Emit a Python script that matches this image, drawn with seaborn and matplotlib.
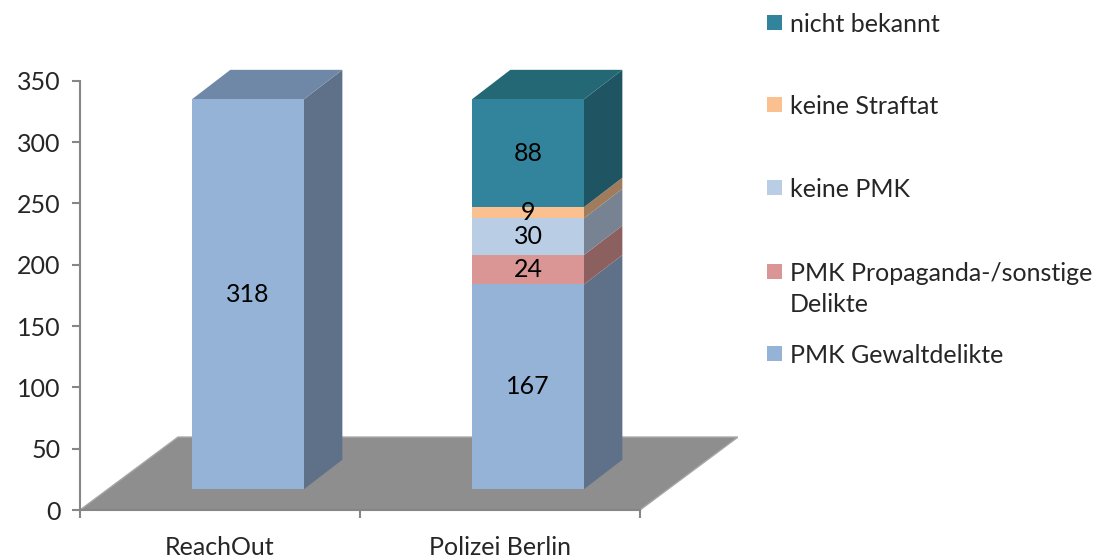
import numpy as np
import pandas as pd
import matplotlib
matplotlib.use("Agg")
import matplotlib.pyplot as plt
from matplotlib.patches import Polygon, Rectangle
import seaborn as sns

categories = ["ReachOut", "Polizei Berlin"]
series = ["PMK Gewaltdelikte", "PMK Propaganda-/sonstige Delikte", "keine PMK",
          "keine Straftat", "nicht bekannt"]
reachout_vals = [318, 0, 0, 0, 0]
polizei_vals = [167, 24, 30, 9, 88]
legend_labels = ["nicht bekannt", "keine Straftat", "keine PMK",
                 "PMK Propaganda-/sonstige\nDelikte", "PMK Gewaltdelikte"]

front_colors = ["#95B3D7", "#D99694", "#B9CDE5", "#FAC090", "#31849B"]
side_colors = ["#5F7089", "#8B605F", "#778392", "#A07B5C", "#1F5563"]
top_colors = ["#7088A8", "#A87372", "#8E9DB0", "#C29570", "#236874"]

sns.set_style("white")
plt.rcParams["font.family"] = ["Lato", "DejaVu Sans"]
fs = 18

fig = plt.figure(figsize=(10.96, 5.58), dpi=100)
ax = fig.add_axes([80 / 1096, 48 / 558, 658 / 1096, 441.4 / 558])

# 3d look: offset of the bar front, depth of bar, depth of floor
bx, by = 0.10, 17.0
ddx, ddy = 0.137, 24.0
fdx, fdy = 0.35, 59.5
bw = 0.4

# floor
ax.add_patch(Polygon([(-0.5, 0), (1.5, 0), (1.5 + fdx, fdy), (-0.5 + fdx, fdy)],
                     closed=True, facecolor="#8E8E8E", edgecolor="#A6A6A6",
                     lw=1, zorder=1))

data = np.array([reachout_vals, polizei_vals])
cum = np.cumsum(data, axis=1)
rows = []
for i, cat in enumerate(categories):
    for j, s in enumerate(series):
        rows.append({"cat": cat, "series": s, "cum": cum[i, j], "val": data[i, j]})
df = pd.DataFrame(rows)

# stacked by overlaying cumulative totals, largest first
for j in reversed(range(len(series))):
    sub = df[df["series"] == series[j]]
    sns.barplot(data=sub, x="cat", y="cum", order=categories, color=front_colors[j],
                saturation=1, width=bw, ax=ax, zorder=3 + (len(series) - j) * 0.01,
                edgecolor="none", linewidth=0)

for p in ax.patches:
    if isinstance(p, Rectangle):
        p.set_x(p.get_x() + bx)
        p.set_y(p.get_y() + by)

for i in range(len(categories)):
    xr = i + bw / 2 + bx
    xl = i - bw / 2 + bx
    bottom = 0
    for j in range(len(series)):
        v = data[i, j]
        if v == 0:
            continue
        b, t = by + bottom, by + bottom + v
        ax.add_patch(Polygon([(xr, b), (xr + ddx, b + ddy), (xr + ddx, t + ddy), (xr, t)],
                             closed=True, facecolor=side_colors[j], edgecolor="none",
                             zorder=2.5))
        ax.text(i + bx, b + v / 2, str(v), ha="center", va="center",
                fontsize=fs, color="black", zorder=5)
        bottom += v
        top_j = j
    T = by + bottom
    ax.add_patch(Polygon([(xl, T), (xr, T), (xr + ddx, T + ddy), (xl + ddx, T + ddy)],
                         closed=True, facecolor=top_colors[top_j], edgecolor="none",
                         zorder=2.5))

ax.set_xlim(-0.5, 1.85)
ax.set_ylim(0, 360)
ax.set_xlabel("")
ax.set_ylabel("")

for side in ["top", "right"]:
    ax.spines[side].set_visible(False)
for side in ["left", "bottom"]:
    ax.spines[side].set_color("#868686")
    ax.spines[side].set_linewidth(1.5)
ax.spines["left"].set_bounds(0, 350)
ax.spines["bottom"].set_bounds(-0.5, 1.5)

ax.set_yticks(range(0, 351, 50))
ax.tick_params(axis="y", length=6, width=1.5, color="#868686", pad=8,
               labelsize=fs, left=True)
ax.set_xticks([0, 1])
ax.set_xticklabels(categories)
ax.set_xticks([-0.5, 0.5, 1.5], minor=True)
ax.tick_params(axis="x", which="major", length=0, pad=19, labelsize=fs)
ax.tick_params(axis="x", which="minor", length=6, width=1.5, color="#868686", bottom=True)

# legend (right side)
leg_y = [536, 454, 371, 287, 205]
legend_colors = front_colors[::-1]
for lab, col, yy in zip(legend_labels, legend_colors, leg_y):
    fig.patches.append(Rectangle((767 / 1096, (yy - 8) / 558), 15 / 1096, 15 / 558,
                                 transform=fig.transFigure, facecolor=col,
                                 edgecolor="none"))
    fig.text(790 / 1096, (yy + 9) / 558, lab, fontsize=fs, va="top", ha="left",
             linespacing=1.4)

fig.savefig("out.png", dpi=100)
